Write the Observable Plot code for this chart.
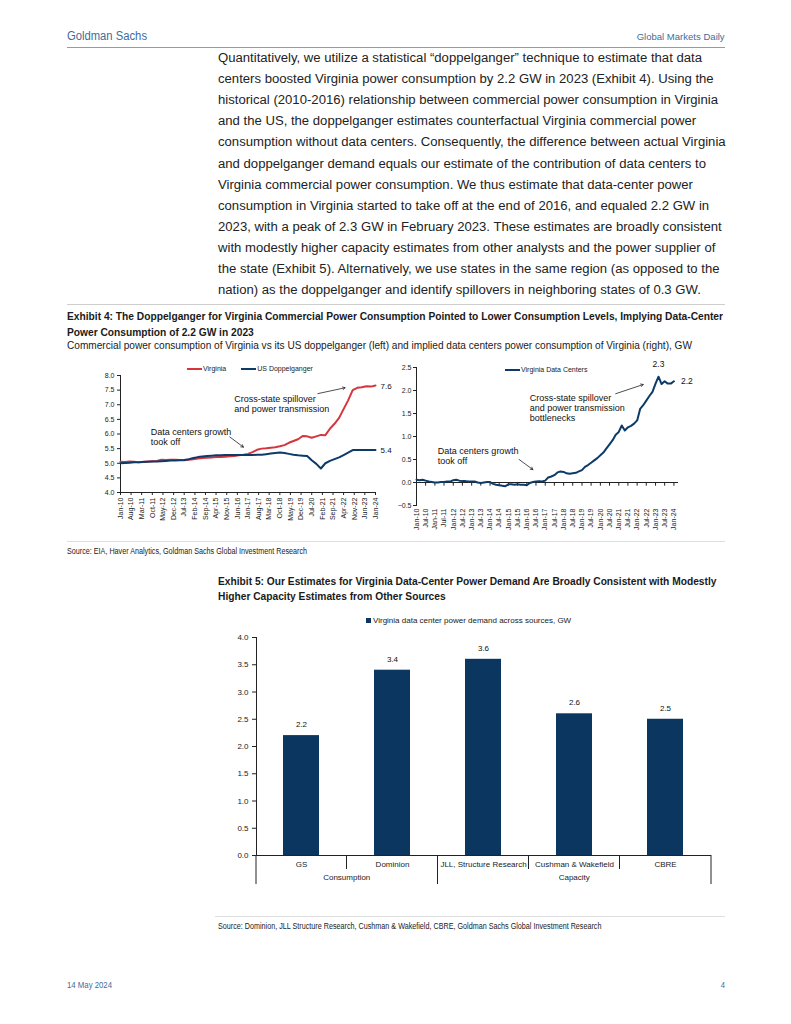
<!DOCTYPE html>
<html><head><meta charset="utf-8">
<script src="https://cdn.jsdelivr.net/npm/d3@7"></script>
<script src="https://cdn.jsdelivr.net/npm/@observablehq/plot@0.6"></script>
<style>
body{margin:0;background:#fff;}
#page{position:relative;width:791px;height:1024px;overflow:hidden;font-family:"Liberation Sans",Arial,sans-serif;color:#1a1a1a;background:#fff;}
.abs{position:absolute;white-space:nowrap;}
.hr{position:absolute;height:0;border-top:1px solid #cfcfcf;}
.chart{position:absolute;}
.sw{display:inline-block;width:15px;height:2px;vertical-align:middle;margin-right:1px;}
</style></head><body><div id="page"></div>
<script>
// ---------- text ----------
const bodyLines = [
  "Quantitatively, we utilize a statistical \u201cdoppelganger\u201d technique to estimate that data",
  "centers boosted Virginia power consumption by 2.2 GW in 2023 (Exhibit 4). Using the",
  "historical (2010-2016) relationship between commercial power consumption in Virginia",
  "and the US, the doppelganger estimates counterfactual Virginia commercial power",
  "consumption without data centers. Consequently, the difference between actual Virginia",
  "and doppelganger demand equals our estimate of the contribution of data centers to",
  "Virginia commercial power consumption. We thus estimate that data-center power",
  "consumption in Virginia started to take off at the end of 2016, and equaled 2.2 GW in",
  "2023, with a peak of 2.3 GW in February 2023. These estimates are broadly consistent",
  "with modestly higher capacity estimates from other analysts and the power supplier of",
  "the state (Exhibit 5). Alternatively, we use states in the same region (as opposed to the",
  "nation) as the doppelganger and identify spillovers in neighboring states of 0.3 GW."
];
const ex4Title = ["Exhibit 4: The Doppelganger for Virginia Commercial Power Consumption Pointed to Lower Consumption Levels, Implying Data-Center",
  "Power Consumption of 2.2 GW in 2023"];
const ex4Sub = "Commercial power consumption of Virginia vs its US doppelganger (left) and implied data centers power consumption of Virginia (right), GW";
const ex4Source = "Source: EIA, Haver Analytics, Goldman Sachs Global Investment Research";
const ex5Title = ["Exhibit 5: Our Estimates for Virginia Data-Center Power Demand Are Broadly Consistent with Modestly",
  "Higher Capacity Estimates from Other Sources"];
const ex5Source = "Source: Dominion, JLL Structure Research, Cushman & Wakefield, CBRE, Goldman Sachs Global Investment Research";

// ---------- data: left chart (quarterly, Jan-10 .. Jan-24) ----------
const virginia = [
  5.05,5.04,5.06,5.05, 5.03,5.05,5.06,5.07, 5.08,5.12,5.11,5.12, 5.12,5.11,5.10,5.12,
  5.14,5.16,5.18,5.19, 5.20,5.21,5.21,5.22, 5.24,5.25,5.27,5.29, 5.32,5.38,5.46,5.50,
  5.51,5.53,5.55,5.58, 5.62,5.70,5.76,5.82, 5.93,5.92,5.87,5.92, 5.97,5.96,6.18,6.35,
  6.55,6.85,7.15,7.50, 7.58,7.60,7.63,7.62, 7.66];
const usDoppelganger = [
  5.00,5.01,5.02,5.03, 5.03,5.04,5.05,5.06, 5.06,5.07,5.08,5.09, 5.09,5.10,5.11,5.14,
  5.18,5.21,5.23,5.25, 5.26,5.27,5.27,5.28, 5.28,5.28,5.28,5.28, 5.28,5.28,5.29,5.29,
  5.31,5.33,5.35,5.37, 5.35,5.32,5.29,5.27, 5.26,5.25,5.10,4.98, 4.82,5.00,5.08,5.14,
  5.20,5.28,5.36,5.45, 5.45,5.45,5.45,5.45, 5.45];
// ---------- data: right chart (every 2 months, Jan-10 .. Jan-24) ----------
const dataCenters = [
  0.06,0.05,0.06,0.04,0.02,0.01,  0.00,0.00,0.01,0.01,0.02,0.02,
  0.05,0.06,0.04,0.03,0.03,0.02,  0.02,0.02,0.00,-0.01,0.00,0.01,
  0.01,-0.03,-0.05,-0.06,-0.07,-0.08, -0.04,-0.04,-0.05,-0.04,-0.05,-0.05,
  -0.06,-0.01,0.01,0.02,0.03,0.02, 0.04,0.11,0.13,0.16,0.22,0.24,
  0.23,0.20,0.19,0.20,0.21,0.24,  0.27,0.34,0.38,0.43,0.48,0.53,
  0.59,0.65,0.74,0.83,0.92,1.04,  1.10,1.24,1.13,1.20,1.23,1.28,
  1.35,1.60,1.68,1.78,1.88,1.97,  2.15,2.30,2.14,2.20,2.15,2.15,
  2.20];
// ---------- data: bar chart ----------
const sources = ["GS","Dominion","JLL, Structure Research","Cushman & Wakefield","CBRE"];
const demand = [2.2,3.4,3.6,2.6,2.5];
const sourceGroups = ["Consumption","Consumption","Capacity","Capacity","Capacity"];

// ---------- helpers ----------
const page = document.getElementById("page");
// put text centred vertically at y; sx = horizontal scale (condensed look)
function put(text, x, y, size, o = {}) {
  const d = document.createElement("div");
  d.className = "abs";
  d.textContent = text;
  d.style.fontSize = size + "px";
  d.style.lineHeight = size + "px";
  d.style.top = (y - size / 2) + "px";
  if (o.right != null) { d.style.right = (791 - o.right) + "px"; d.style.transformOrigin = "right center"; }
  else { d.style.left = x + "px"; d.style.transformOrigin = "left center"; }
  if (o.bold) d.style.fontWeight = "bold";
  if (o.color) d.style.color = o.color;
  page.appendChild(d);
  const w = d.getBoundingClientRect().width;
  let sx = o.sx || 1;
  if (o.width) sx = o.width / w;
  d.style.transform = "scaleX(" + sx + ")";
  return sx;
}
function hr(x1, x2, y, color) {
  const d = document.createElement("div");
  d.className = "hr";
  d.style.left = x1 + "px"; d.style.width = (x2 - x1) + "px"; d.style.top = y + "px";
  if (color) d.style.borderTopColor = color;
  page.appendChild(d);
}
function legend(items, x, y, size) {
  const d = document.createElement("div");
  d.className = "abs";
  d.style.left = x + "px"; d.style.top = (y - size / 2) + "px";
  d.style.fontSize = size + "px"; d.style.lineHeight = size + "px";
  items.forEach(([label, color], i) => {
    const s = document.createElement("span"); s.className = "sw"; s.style.background = color;
    d.appendChild(s);
    const t = document.createElement("span"); t.textContent = label;
    t.style.marginRight = i < items.length - 1 ? "15px" : "0";
    d.appendChild(t);
  });
  page.appendChild(d);
}
function place(svg, x, y) { svg.classList.add("chart"); svg.style.left = x + "px"; svg.style.top = y + "px"; page.appendChild(svg); }

const BLUE = "#0c3b69", RED = "#d6353c", BAR = "#0b3660", HEAD = "#3f6c9b";
const chartStyle = {fontFamily: "'Liberation Sans', Arial, sans-serif", fontSize: "7px", color: "#222", background: "transparent", overflow: "visible"};

// ---------- header / body ----------
put("Goldman Sachs", 67, 36, 12.5, {color: HEAD, width: 80});
put("Global Markets Daily", 0, 37, 9.5, {color: HEAD, right: 725, width: 88});
hr(67, 725, 47, "#9a9a9a");
const bodySx = put(bodyLines[0], 218, 58, 12, {color: "#222", width: 484});
bodyLines.slice(1).forEach((t, i) => put(t, 218, 58 + (i + 1) * 21.1, 12, {color: "#222", sx: bodySx}));
hr(67, 725, 304);
const titleSx = put(ex4Title[0], 67, 317, 11.5, {bold: true, width: 656});
put(ex4Title[1], 67, 332.5, 11.5, {bold: true, sx: titleSx});
put(ex4Sub, 67, 345, 11, {width: 625});
hr(67, 725, 541, "#dedede");
const srcSx = put(ex4Source, 67, 551, 8.5, {width: 240});
put(ex5Title[0], 218, 582, 11.5, {bold: true, sx: titleSx});
put(ex5Title[1], 218, 597, 11.5, {bold: true, sx: titleSx});
hr(215, 725, 916, "#dedede");
put(ex5Source, 218, 926, 8.5, {sx: srcSx});
put("14 May 2024", 67, 985, 9, {color: HEAD, width: 45});
put("4", 0, 985, 9, {color: HEAD, right: 725, sx: 0.85});

// ---------- left chart ----------
const t0 = new Date(Date.UTC(2010, 0, 1));
const mon = k => d3.utcMonth.offset(t0, k);
const leftData = virginia.map((v, i) => ({date: mon(i * 3), va: v, us: usDoppelganger[i]}));
const leftTicks = d3.range(0, 169, 7).map(mon);
const fmt = d3.utcFormat("%b-%y");
const leftNotes = [
  {date: mon(75), v: 7.04, text: "Cross-state spillover\nand power transmission"},
  {date: mon(20), v: 5.9, text: "Data centers growth\ntook off"}
];
const leftArrows = [
  {d1: mon(130), v1: 7.38, d2: mon(148), v2: 7.58},
  {d1: mon(72), v1: 5.9, d2: mon(81), v2: 5.55}
];
const leftEnd = [{date: mon(168), v: 7.62, text: "7.6"}, {date: mon(168), v: 5.44, text: "5.4"}];

const left = Plot.plot({
  width: 335, height: 180, marginLeft: 60, marginRight: 20, marginTop: 15, marginBottom: 48,
  style: chartStyle,
  x: {type: "utc", domain: [mon(0), mon(168)]},
  y: {domain: [4, 8]},
  marks: [
    Plot.axisY({ticks: d3.range(4, 8.01, 0.5), tickFormat: d3.format(".1f"), tickSize: 3, tickPadding: 3, label: null}),
    Plot.axisX({ticks: leftTicks, tickFormat: fmt, tickRotate: -90, tickSize: 3, tickPadding: 2, label: null}),
    Plot.frame({anchor: "left", stroke: "#222"}),
    Plot.ruleY([4], {stroke: "#222"}),
    Plot.line(leftData, {x: "date", y: "va", stroke: RED, strokeWidth: 2}),
    Plot.line(leftData, {x: "date", y: "us", stroke: BLUE, strokeWidth: 2}),
    Plot.text(leftNotes, {x: "date", y: "v", text: "text", textAnchor: "start", fontSize: 9, lineHeight: 1.1, fill: "#111"}),
    Plot.arrow(leftArrows, {x1: "d1", y1: "v1", x2: "d2", y2: "v2", stroke: "#222", strokeWidth: 0.8, headLength: 5}),
    Plot.text(leftEnd, {x: "date", y: "v", text: "text", textAnchor: "start", dx: 5, fontSize: 8, fill: "#111"})
  ]
});
place(left, 60, 360);
legend([["Virginia", RED], ["US Doppelganger", BLUE]], 187, 368, 7);

// ---------- right chart ----------
const rightData = dataCenters.map((v, i) => ({date: mon(i * 2), v}));
const rightTicks = d3.range(0, 169, 6).map(mon);
const rightNotes = [
  {date: mon(74), v: 1.63, text: "Cross-state spillover\nand power transmission\nbottlenecks"},
  {date: mon(14), v: 0.58, text: "Data centers growth\ntook off"}
];
const rightArrows = [
  {d1: mon(130), v1: 1.93, d2: mon(148), v2: 2.13},
  {d1: mon(67), v1: 0.5, d2: mon(76), v2: 0.28}
];
const rightPeak = [{date: mon(158), v: 2.3, text: "2.3"}];
const rightEnd = [{date: mon(168), v: 2.2, text: "2.2"}];

const right = Plot.plot({
  width: 340, height: 180, marginLeft: 21, marginRight: 57, marginTop: 7, marginBottom: 35,
  style: chartStyle,
  x: {type: "utc", domain: [mon(0), mon(171)]},
  y: {domain: [-0.5, 2.5]},
  marks: [
    Plot.axisY({ticks: d3.range(-0.5, 2.51, 0.5), tickFormat: d3.format(".1f"), tickSize: 3, tickPadding: 2, label: null}),
    Plot.axisX({ticks: rightTicks, tickFormat: fmt, tickRotate: -90, tickSize: 0, tickPadding: 3, label: null}),
    Plot.frame({anchor: "left", stroke: "#222"}),
    Plot.ruleY([0], {stroke: "#222"}),
    Plot.ruleX(rightTicks, {x: d => d, y1: 0, y2: -0.08, stroke: "#222"}),
    Plot.line(rightData, {x: "date", y: "v", stroke: BLUE, strokeWidth: 2}),
    Plot.text(rightNotes, {x: "date", y: "v", text: "text", textAnchor: "start", fontSize: 9, lineHeight: 1.1, fill: "#111"}),
    Plot.arrow(rightArrows, {x1: "d1", y1: "v1", x2: "d2", y2: "v2", stroke: "#222", strokeWidth: 0.8, headLength: 5}),
    Plot.text(rightPeak, {x: "date", y: "v", text: "text", dy: -12, fontSize: 8.5, fill: "#111"}),
    Plot.text(rightEnd, {x: "date", y: "v", text: "text", textAnchor: "start", dx: 7, fontSize: 8.5, fill: "#111"})
  ]
});
place(right, 395, 360);
legend([["Virginia Data Centers", BLUE]], 505, 369, 7);

// ---------- bar chart ----------
const barData = sources.map((s, i) => ({source: s, v: demand[i], group: sourceGroups[i]}));
const bar = Plot.plot({
  width: 520, height: 265, marginLeft: 41, marginRight: 24, marginTop: 12, marginBottom: 35,
  style: {...chartStyle, fontSize: "8px"},
  x: {domain: sources, paddingInner: 0.6, paddingOuter: 0.3},
  y: {domain: [0, 4]},
  marks: [
    Plot.axisY({ticks: d3.range(0, 4.01, 0.5), tickFormat: d3.format(".1f"), tickSize: 4, tickPadding: 4, label: null}),
    Plot.axisX({tickSize: 0, tickPadding: 6, label: null}),
    Plot.barY(barData, {x: "source", y: "v", fill: BAR}),
    Plot.text(barData, {x: "source", y: "v", text: d => d3.format(".1f")(d.v), dy: -11, fontSize: 8, fill: "#111"}),
    Plot.frame({anchor: "left", stroke: "#222"}),
    Plot.ruleY([0], {stroke: "#222"})
  ]
});
place(bar, 215, 625);
(function () {
  const xs = bar.scale("x"), ys = bar.scale("y");
  const bw = xs.bandwidth, step = xs.step || bw / 0.4;
  const y0 = ys.apply(0);
  const [r0, r1] = xs.range;
  const g = d3.select(bar).append("g").attr("stroke", "#222").attr("stroke-width", 1);
  const bounds = [{x: r0, long: true}];
  for (let i = 0; i < sources.length - 1; i++) {
    const bx = xs.apply(sources[i]) + bw + (step - bw) / 2;
    bounds.push({x: bx, long: sourceGroups[i] !== sourceGroups[i + 1]});
  }
  bounds.push({x: r1, long: true});
  bounds.forEach(b => g.append("line").attr("x1", b.x).attr("x2", b.x).attr("y1", y0).attr("y2", y0 + (b.long ? 29 : 14)));
  const groups = Array.from(new Set(sourceGroups));
  const t = d3.select(bar).append("g").attr("text-anchor", "middle").attr("font-size", 8).attr("fill", "#222");
  groups.forEach(gname => {
    const idx = sourceGroups.map((s, i) => s === gname ? i : -1).filter(i => i >= 0);
    const a = idx[0] === 0 ? r0 : xs.apply(sources[idx[0]]) - (step - bw) / 2;
    const last = idx[idx.length - 1];
    const b = last === sources.length - 1 ? r1 : xs.apply(sources[last]) + bw + (step - bw) / 2;
    t.append("text").attr("x", (a + b) / 2).attr("y", y0 + 24).attr("dy", "0.1em").text(gname);
  });
})();
// bar legend
(function () {
  const d = document.createElement("div");
  d.className = "abs";
  d.style.left = "366px"; d.style.top = "617px"; d.style.fontSize = "8px"; d.style.lineHeight = "8px";
  const s = document.createElement("span");
  s.style.cssText = "display:inline-block;width:5px;height:5px;background:" + BAR + ";margin-right:2px;vertical-align:0px;";
  d.appendChild(s);
  d.appendChild(document.createTextNode("Virginia data center power demand across sources, GW"));
  page.appendChild(d);
})();
</script></body></html>
